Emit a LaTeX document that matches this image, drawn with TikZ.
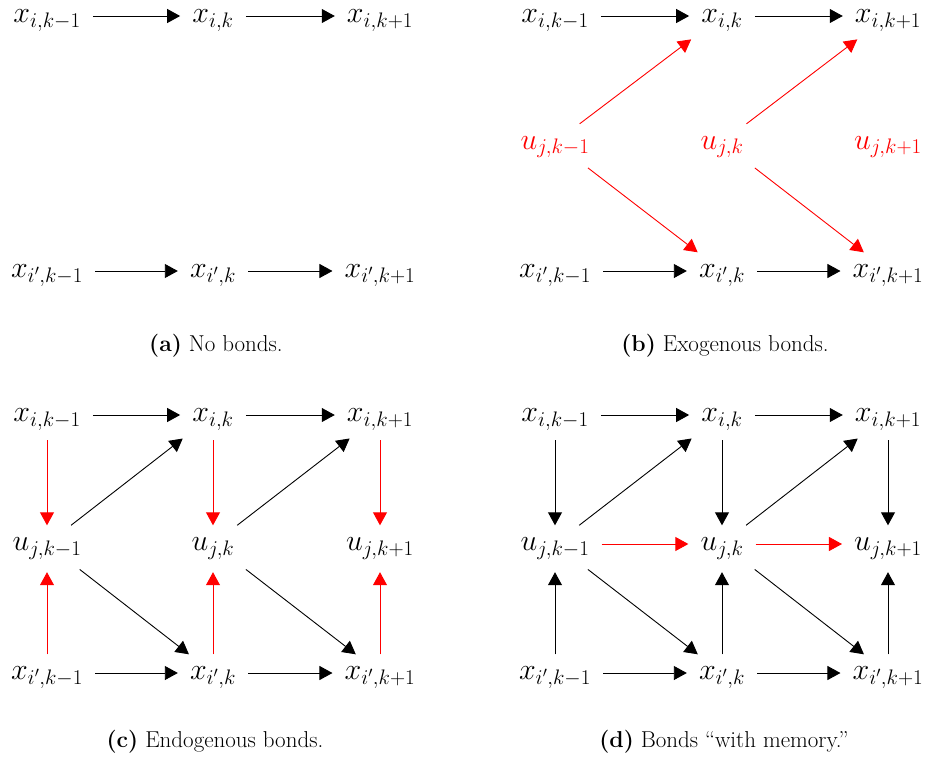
\RequirePackage{fix-cm}
\documentclass[tikz,border=0pt]{standalone}
\usetikzlibrary{arrows.meta}
\tikzset{
  v/.style={anchor=base, inner xsep=12pt, inner ysep=9pt, text height=16pt, text depth=3pt, font=\fontsize{30}{36}\selectfont},
  vt/.style={v, inner ysep=7pt, text height=13pt, text depth=0pt},
  ar/.style={-{Triangle[length=13pt,width=14pt]}, line width=0.9pt},
  capt/.style={anchor=base, inner sep=0pt, font=\fontsize{23}{28}\selectfont},
  dn/.style={shorten <=11.5pt},
  up/.style={shorten >=9.5pt},
  dg/.style={shorten <=11pt},
  ug/.style={shorten >=16pt}
}
\begin{document}
\begin{tikzpicture}[x=1pt,y=-1pt]
\useasboundingbox (0,0) rectangle (930,758);
% ---------- (a)
\node[vt] (a1) at (47,22.5) {$x_{i,k-1}$};
\node[vt] (a2) at (213,22.5) {$x_{i,k}$};
\node[vt] (a3) at (380,22.5) {$x_{i,k+1}$};
\node[v] (a4) at (47,277.5) {$x_{i',k-1}$};
\node[v] (a5) at (213,277.5) {$x_{i',k}$};
\node[v] (a6) at (380,277.5) {$x_{i',k+1}$};
\draw[ar] (a1) -- (a2);
\draw[ar] (a2) -- (a3);
\draw[ar] (a4) -- (a5);
\draw[ar] (a5) -- (a6);
\node[capt] (acap) at (216,351) {\textbf{(a)} No bonds.};
% ---------- (b)
\node[vt] (b1) at (555,22.5) {$x_{i,k-1}$};
\node[vt] (b2) at (722,22.5) {$x_{i,k}$};
\node[vt] (b3) at (888,22.5) {$x_{i,k+1}$};
\node[v,text=red] (bu1) at (555,149) {$u_{j,k-1}$};
\node[v,text=red] (bu2) at (722,149) {$u_{j,k}$};
\node[v,text=red] (bu3) at (888,149) {$u_{j,k+1}$};
\node[v] (b4) at (555,277.5) {$x_{i',k-1}$};
\node[v] (b5) at (722,277.5) {$x_{i',k}$};
\node[v] (b6) at (888,277.5) {$x_{i',k+1}$};
\draw[ar] (b1) -- (b2);
\draw[ar] (b2) -- (b3);
\draw[ar] (b4) -- (b5);
\draw[ar] (b5) -- (b6);
\draw[ar,red,ug] (bu1) -- (b2);
\draw[ar,red,dg] (bu1) -- (b5);
\draw[ar,red,ug] (bu2) -- (b3);
\draw[ar,red,dg] (bu2) -- (b6);
\node[capt] (bcap) at (725,351) {\textbf{(b)} Exogenous bonds.};
% ---------- (c)
\node[vt] (c1) at (47,421.5) {$x_{i,k-1}$};
\node[vt] (c2) at (213,421.5) {$x_{i,k}$};
\node[vt] (c3) at (380,421.5) {$x_{i,k+1}$};
\node[v] (cu1) at (47,550.5) {$u_{j,k-1}$};
\node[v] (cu2) at (213,550.5) {$u_{j,k}$};
\node[v] (cu3) at (380,550.5) {$u_{j,k+1}$};
\node[v] (c4) at (47,679.5) {$x_{i',k-1}$};
\node[v] (c5) at (213,679.5) {$x_{i',k}$};
\node[v] (c6) at (380,679.5) {$x_{i',k+1}$};
\draw[ar] (c1) -- (c2);
\draw[ar] (c2) -- (c3);
\draw[ar] (c4) -- (c5);
\draw[ar] (c5) -- (c6);
\draw[ar,red,dn] (c1) -- (cu1);
\draw[ar,red,dn] (c2) -- (cu2);
\draw[ar,red,dn] (c3) -- (cu3);
\draw[ar,red,up] (c4) -- (cu1);
\draw[ar,red,up] (c5) -- (cu2);
\draw[ar,red,up] (c6) -- (cu3);
\draw[ar,ug] (cu1) -- (c2);
\draw[ar,dg] (cu1) -- (c5);
\draw[ar,ug] (cu2) -- (c3);
\draw[ar,dg] (cu2) -- (c6);
\node[capt] (ccap) at (215,747) {\textbf{(c)} Endogenous bonds.};
% ---------- (d)
\node[vt] (d1) at (555,421.5) {$x_{i,k-1}$};
\node[vt] (d2) at (722,421.5) {$x_{i,k}$};
\node[vt] (d3) at (888,421.5) {$x_{i,k+1}$};
\node[v] (du1) at (555,550.5) {$u_{j,k-1}$};
\node[v] (du2) at (722,550.5) {$u_{j,k}$};
\node[v] (du3) at (888,550.5) {$u_{j,k+1}$};
\node[v] (d4) at (555,679.5) {$x_{i',k-1}$};
\node[v] (d5) at (722,679.5) {$x_{i',k}$};
\node[v] (d6) at (888,679.5) {$x_{i',k+1}$};
\draw[ar] (d1) -- (d2);
\draw[ar] (d2) -- (d3);
\draw[ar] (d4) -- (d5);
\draw[ar] (d5) -- (d6);
\draw[ar,dn] (d1) -- (du1);
\draw[ar,dn] (d2) -- (du2);
\draw[ar,dn] (d3) -- (du3);
\draw[ar,up] (d4) -- (du1);
\draw[ar,up] (d5) -- (du2);
\draw[ar,up] (d6) -- (du3);
\draw[ar,ug] (du1) -- (d2);
\draw[ar,dg] (du1) -- (d5);
\draw[ar,ug] (du2) -- (d3);
\draw[ar,dg] (du2) -- (d6);
\draw[ar,red] (du1) -- (du2);
\draw[ar,red] (du2) -- (du3);
\node[capt] (dcap) at (724,747) {\textbf{(d)} Bonds ``with memory.''};
\end{tikzpicture}
\end{document}
